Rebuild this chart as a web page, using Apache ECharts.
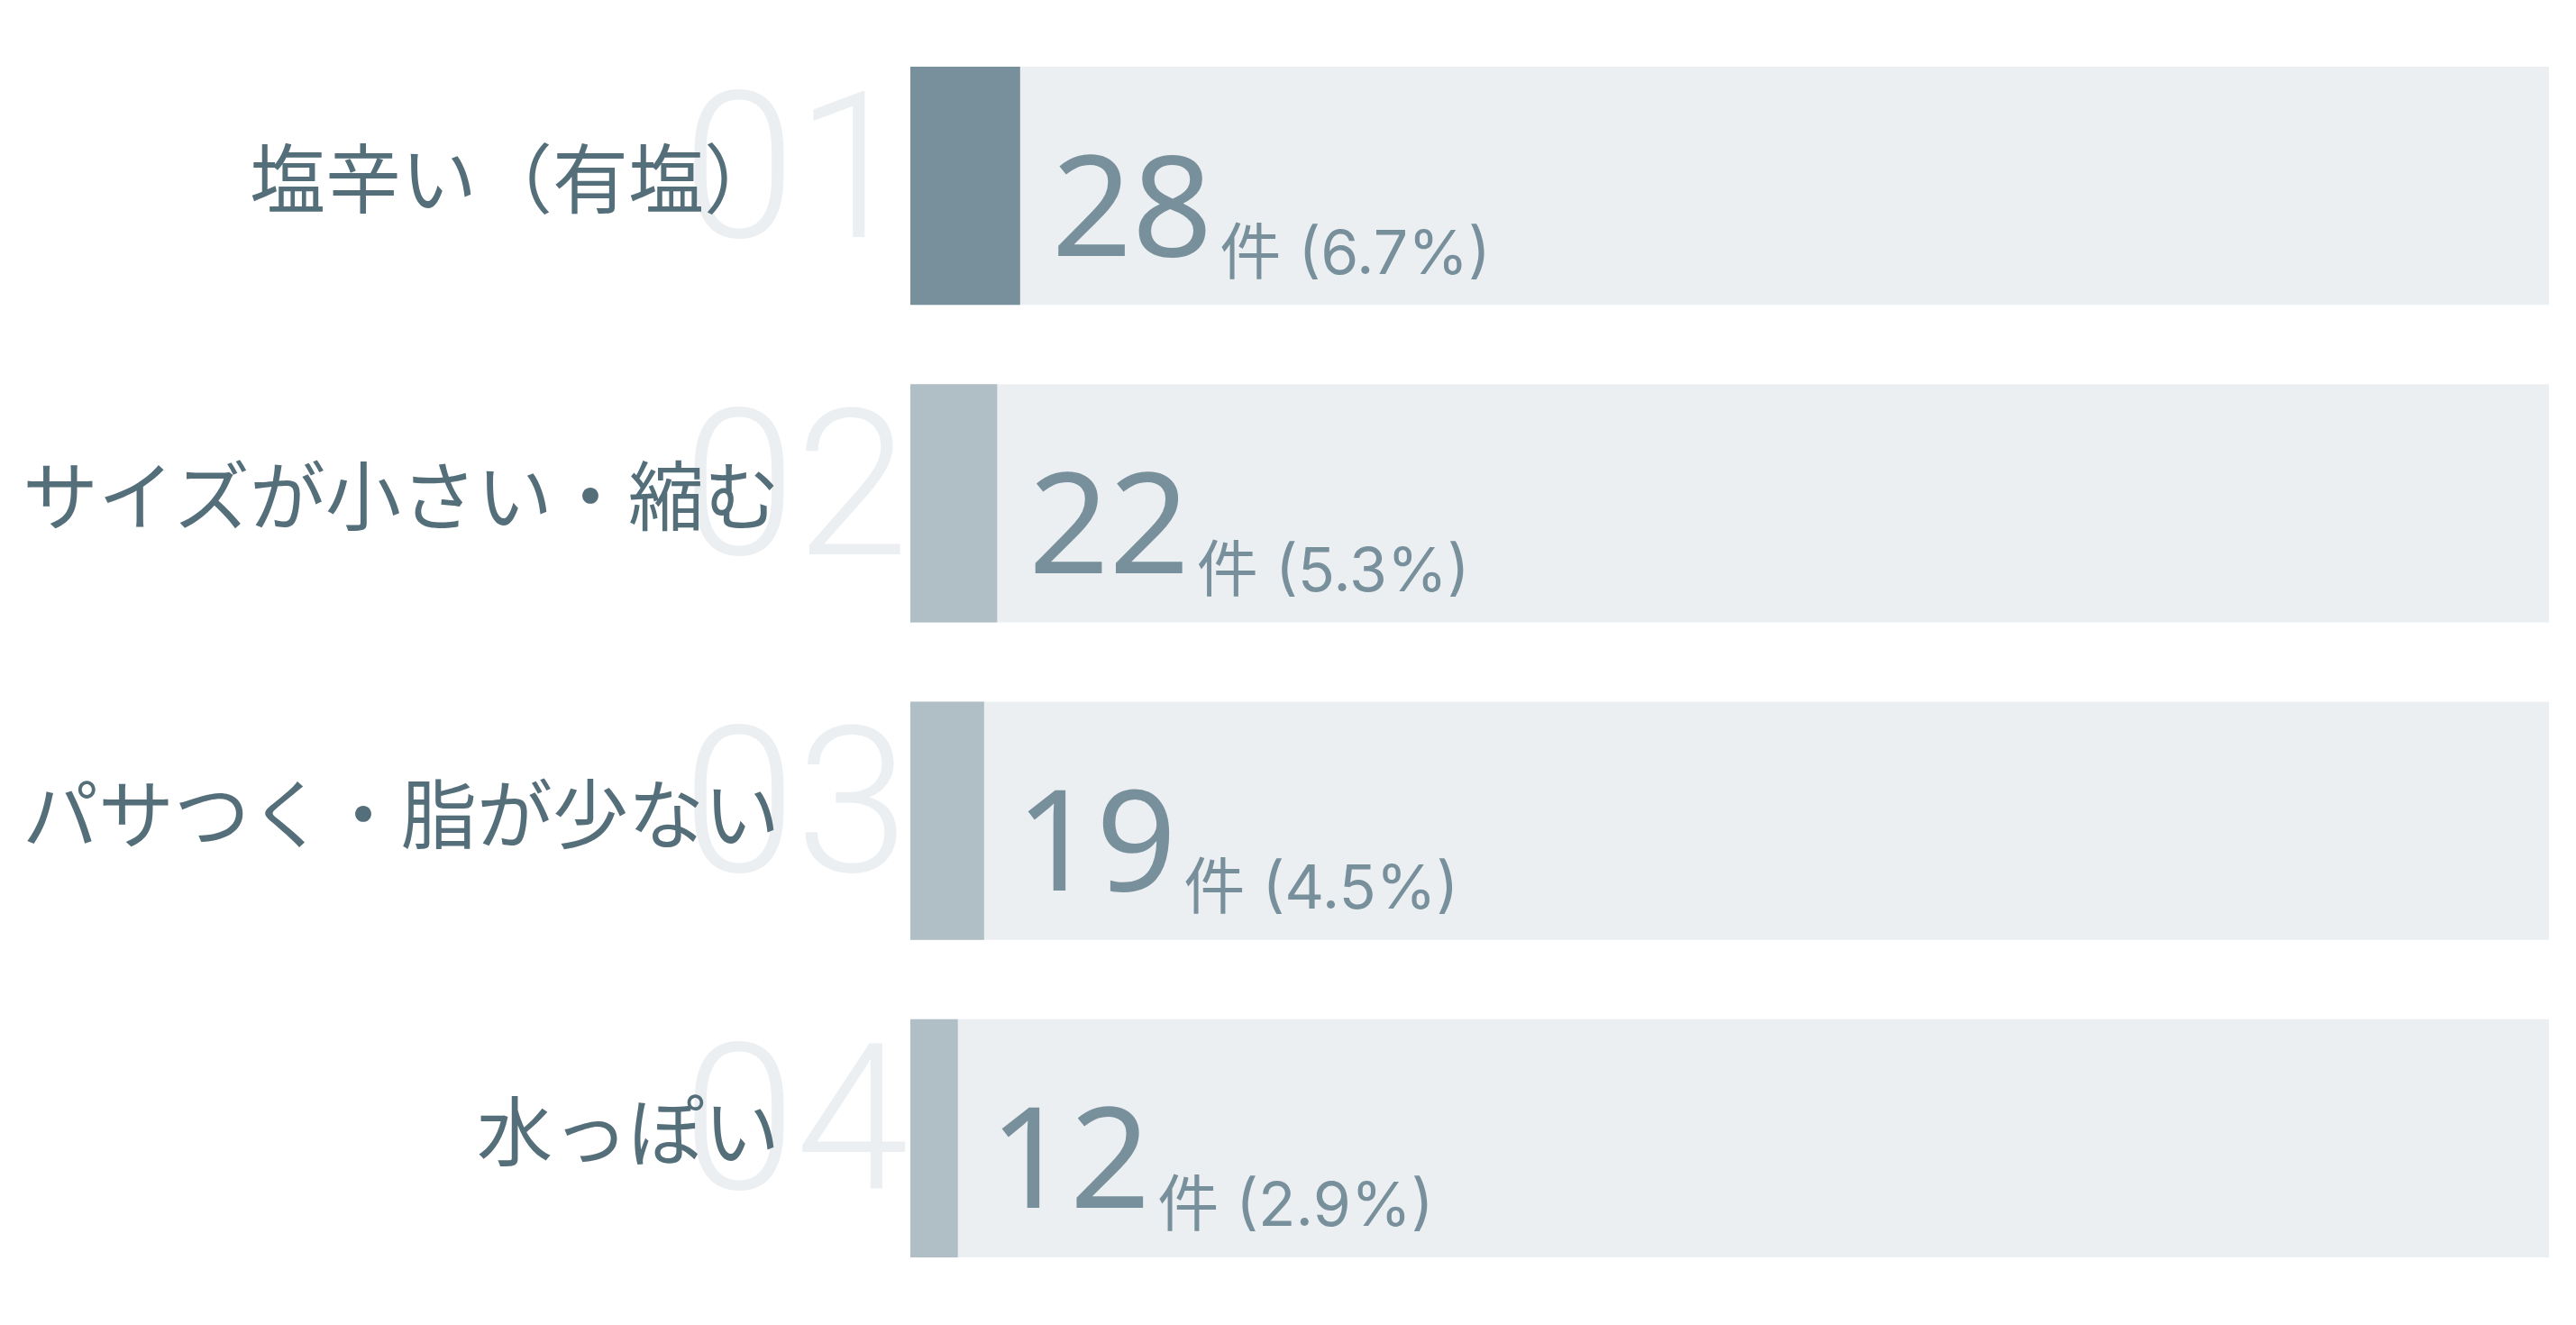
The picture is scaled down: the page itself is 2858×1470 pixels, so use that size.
<!DOCTYPE html>
<html>
<head>
<meta charset="utf-8">
<script src="https://cdn.jsdelivr.net/npm/echarts@6/dist/echarts.min.js"></script>
<style>
html,body{margin:0;padding:0;background:#ffffff;}
#chart{width:2858px;height:1470px;}
</style>
</head>
<body>
<div id="chart"></div>
<script>
const categories = ['塩辛い（有塩）', 'サイズが小さい・縮む', 'パサつく・脂が少ない', '水っぽい'];
const ranks = ['01', '02', '03', '04'];
const counts = [28, 22, 19, 12];
const percents = [6.7, 5.3, 4.5, 2.9];
const barColors = ['#78909C', '#B0BEC5', '#B0BEC5', '#B0BEC5'];

const chart = echarts.init(document.getElementById('chart'), null, {renderer: 'canvas'});

const option = {
  animation: false,
  backgroundColor: '#ffffff',
  grid: {left: 1010, right: 30, top: 30, bottom: 31, containLabel: false},
  xAxis: {
    type: 'value', min: 0, max: 100,
    show: false
  },
  yAxis: [
    {
      type: 'category', data: categories, inverse: true, z: 5,
      axisLine: {show: false}, axisTick: {show: false}, splitLine: {show: false},
      axisLabel: {
        margin: 145, fontSize: 84, color: '#546E7A',
        fontFamily: '"Noto Sans CJK JP", sans-serif',
        verticalAlign: 'bottom', lineHeight: 16
      }
    },
    {
      type: 'category', data: categories, inverse: true, position: 'left', offset: 0, z: 1,
      axisLine: {show: false}, axisTick: {show: false}, splitLine: {show: false},
      axisLabel: {
        margin: 2, fontSize: 226, fontWeight: 300, color: '#ECEFF1',
        fontFamily: 'Roboto, sans-serif',
        padding: [0, 0, 40, 0],
        formatter: function (v, i) { return ranks[i]; }
      }
    }
  ],
  series: [{
    type: 'bar',
    yAxisIndex: 0,
    barCategoryGap: '25%',
    showBackground: true,
    backgroundStyle: {color: '#ECEFF1'},
    data: percents.map(function (p, i) {
      return {value: p, itemStyle: {color: barColors[i]}};
    }),
    label: {
      show: true,
      position: 'right',
      distance: 35,
      offset: [0, 36],
      formatter: function (p) {
        return '{n|' + counts[p.dataIndex] + '}{u|件 (' + percents[p.dataIndex] + '%)}';
      },
      rich: {
        n: {fontSize: 156, color: '#78909C', fontFamily: '"Noto Sans", sans-serif', lineHeight: 150, verticalAlign: 'bottom'},
        u: {fontSize: 68, color: '#78909C', fontFamily: 'Inter, "Noto Sans CJK JP", sans-serif', lineHeight: 96, verticalAlign: 'bottom', padding: [0, 0, 0, 8]}
      }
    }
  }]
};
chart.setOption(option);
</script>
</body>
</html>
